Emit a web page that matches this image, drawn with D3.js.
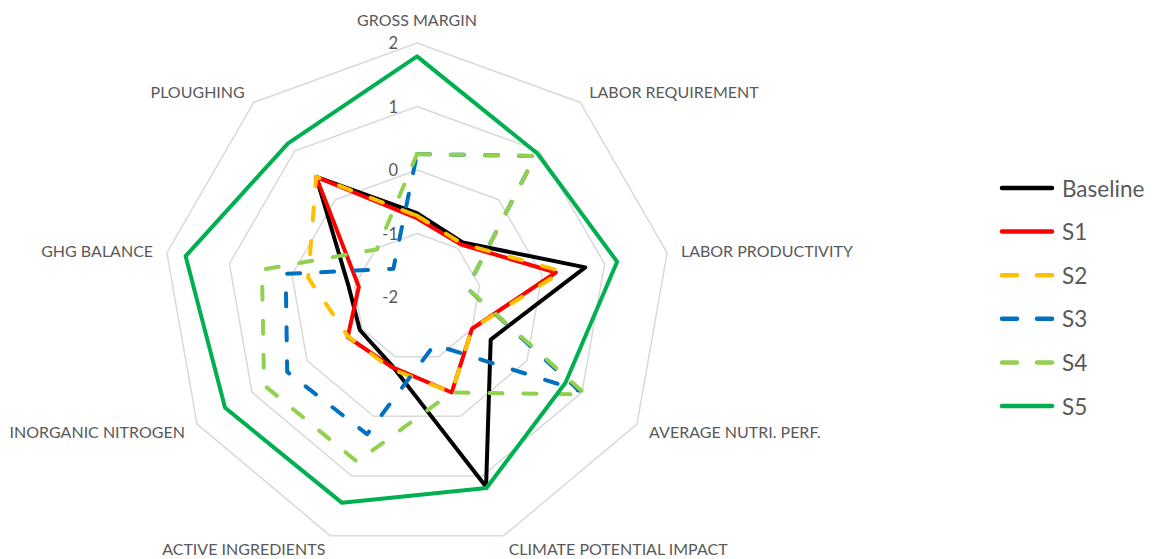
<!DOCTYPE html>
<html>
<head>
<meta charset="utf-8">
<script src="https://cdn.jsdelivr.net/npm/d3@7"></script>
<style>
  html, body { margin: 0; padding: 0; background: #ffffff; }
  svg { display: block; }
  text { font-family: Lato, "Open Sans", sans-serif; fill: #595959; }
</style>
</head>
<body>
<svg id="chart" width="1163" height="559"></svg>
<script>
const categories = ["GROSS MARGIN", "LABOR REQUIREMENT", "LABOR PRODUCTIVITY", "AVERAGE NUTRI. PERF.",
  "CLIMATE POTENTIAL IMPACT", "ACTIVE INGREDIENTS", "INORGANIC NITROGEN", "GHG BALANCE", "PLOUGHING"];
const seriesNames = ["Baseline", "S1", "S2", "S3", "S4", "S5"];
const baseline = [-0.68, -0.88, 0.69, -0.66, 1.18, -0.85, -0.96, -0.90, 0.47];
const s1 = [-0.76, -0.92, 0.22, -1.00, -0.40, -0.83, -0.74, -1.07, 0.47];
const s2 = [-0.72, -0.90, 0.32, -1.00, -0.40, -0.80, -0.75, -0.26, 0.47];
const s3 = [0.25, 0.90, -1.20, 0.95, -1.20, 0.30, 0.36, 0.10, -1.42];
const s4 = [0.25, 0.90, -1.20, 1.07, -0.40, 0.76, 0.78, 0.48, -1.02];
const s5 = [1.79, 0.95, 1.20, 0.70, 1.20, 1.45, 1.49, 1.70, 1.16];
const tickValues = [-2, -1, 0, 1, 2];
const tickLabels = ["-2", "-1", "0", "1", "2"];

const colors = ["#000000", "#FF0000", "#FFC000", "#0070C0", "#92D050", "#00B050"];
const dashed = [false, false, true, true, true, false];
const allSeries = [baseline, s1, s2, s3, s4, s5];

const svg = d3.select("#chart");
const cx = 417, cy = 297, R = 254;
const n = categories.length;
const r = d3.scaleLinear().domain([-2, 2]).range([0, R]);
const angle = i => i * 2 * Math.PI / n;

const g = svg.append("g").attr("transform", `translate(${cx},${cy})`);

// grid rings
const ringLine = d3.lineRadial()
  .angle((d, i) => angle(i))
  .radius(d => r(d))
  .curve(d3.curveLinearClosed);
tickValues.filter(t => t > -2).forEach(t => {
  g.append("path")
    .attr("d", ringLine(categories.map(() => t)))
    .attr("fill", "none")
    .attr("stroke", "#d9d9d9")
    .attr("stroke-width", 1.5);
});

// tick labels
tickValues.forEach((t, i) => {
  g.append("text")
    .attr("x", -19)
    .attr("y", -r(t))
    .attr("text-anchor", "end")
    .attr("dominant-baseline", "central")
    .style("font-size", "16.5px")
    .text(tickLabels[i]);
});

// category labels
categories.forEach((c, i) => {
  const a = angle(i);
  const s = Math.sin(a), co = Math.cos(a);
  const lr = R + 14;
  let x = lr * s, y = -lr * co;
  let anchor = "middle";
  if (s > 0.1) anchor = "start";
  else if (s < -0.1) anchor = "end";
  if (Math.abs(s) < 0.1 && co > 0) y -= 10;
  g.append("text")
    .attr("x", x)
    .attr("y", y)
    .attr("text-anchor", anchor)
    .attr("dominant-baseline", "central")
    .style("font-size", "16px")
    .text(c);
});

// series
const seriesLine = d3.lineRadial()
  .angle((d, i) => angle(i))
  .radius(d => r(d))
  .curve(d3.curveLinearClosed);
allSeries.forEach((vals, k) => {
  g.append("path")
    .attr("d", seriesLine(vals))
    .attr("fill", "none")
    .attr("stroke", colors[k])
    .attr("stroke-width", 4)
    .attr("stroke-linejoin", "round")
    .attr("stroke-linecap", "round")
    .attr("stroke-dasharray", dashed[k] ? "13 21" : null);
});

// legend
const legend = svg.append("g");
const legendY = d3.scalePoint().domain(seriesNames).range([188, 406]);
seriesNames.forEach((name, k) => {
  const y = legendY(name);
  legend.append("line")
    .attr("x1", 1002).attr("x2", 1052)
    .attr("y1", y).attr("y2", y)
    .attr("stroke", colors[k])
    .attr("stroke-width", 4.5)
    .attr("stroke-linecap", "round")
    .attr("stroke-dasharray", dashed[k] ? "15 20" : null);
  legend.append("text")
    .attr("x", 1062)
    .attr("y", y)
    .attr("dominant-baseline", "central")
    .style("font-size", "22.5px")
    .text(name);
});
</script>
</body>
</html>
